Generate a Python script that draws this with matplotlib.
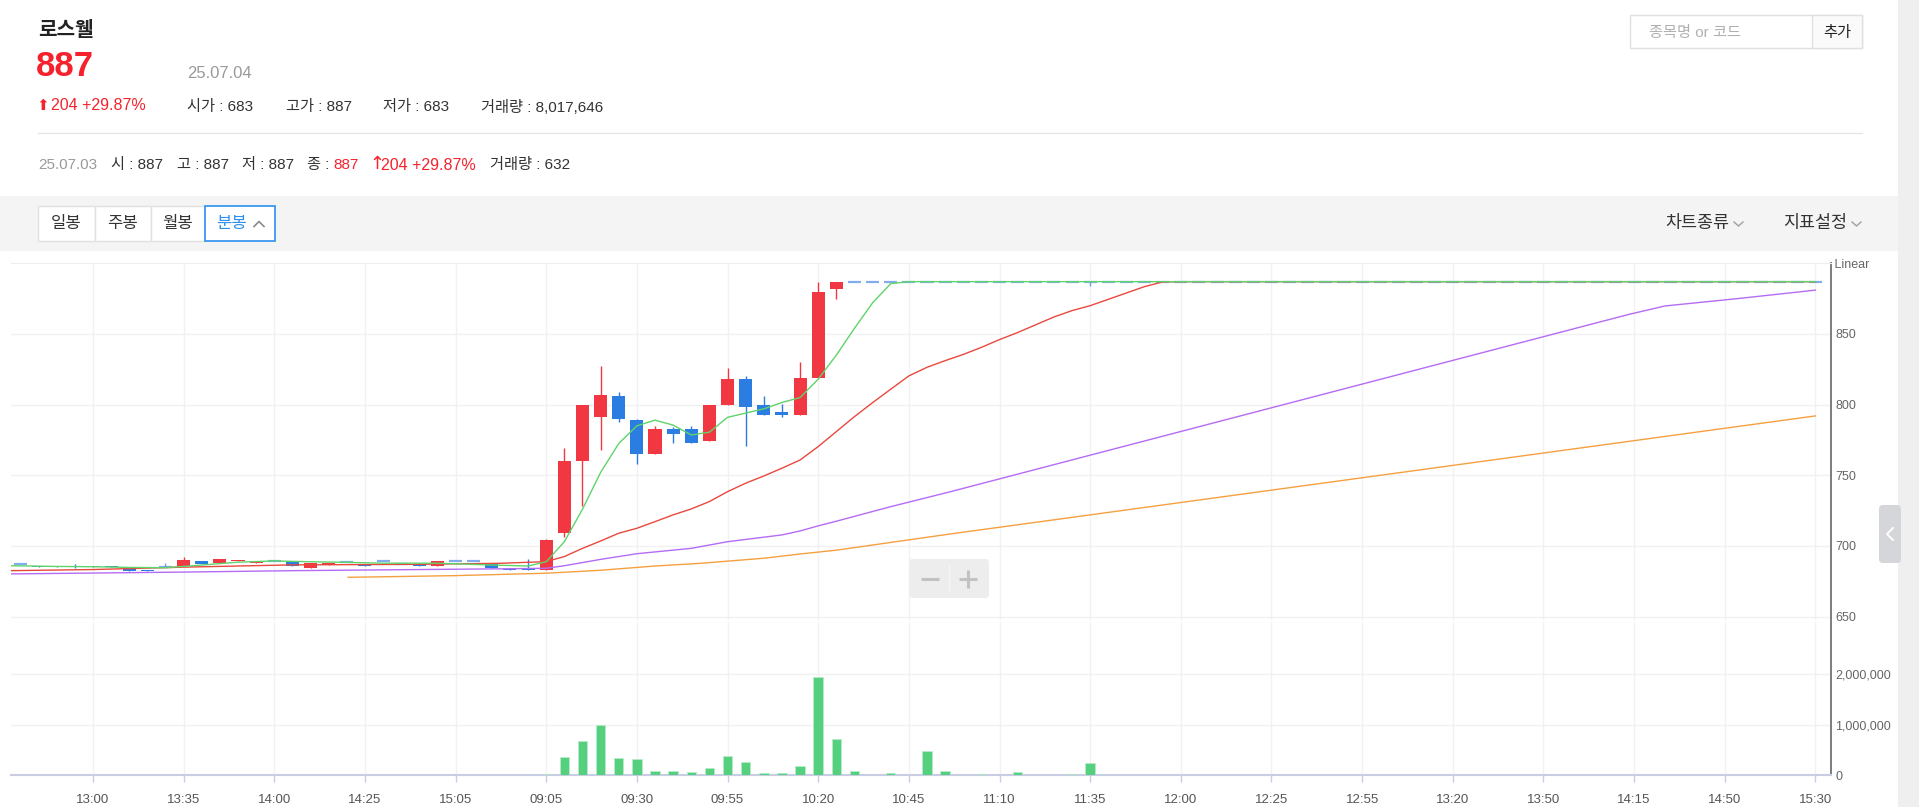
import numpy as np
import matplotlib.pyplot as plt
from matplotlib.patches import Rectangle, FancyBboxPatch
from matplotlib.ticker import FuncFormatter

plt.rcParams['font.family'] = ['Liberation Sans', 'Noto Sans CJK KR', 'DejaVu Sans']
TICKFONT = ['Liberation Sans']

# ---- data (5 minute bars, x = bar index, 13:00 of prev. session = 0)
tick_pos = list(range(0, 100, 5))
tick_labels = ['13:00', '13:35', '14:00', '14:25', '15:05', '09:05', '09:30', '09:55',
               '10:20', '10:45', '11:10', '11:35', '12:00', '12:25', '12:55', '13:20',
               '13:50', '14:15', '14:50', '15:30']

# previous session, bars -4 .. 24
prev_open  = [687, 686, 686, 686, 686, 686, 684, 683, 685, 686, 689, 688, 689, 688, 689,
              689, 684.5, 686.5, 688.5, 687, 689, 687.5, 687, 686, 689, 689, 687, 684, 684]
prev_high  = [687, 686, 686, 687, 686, 686, 684, 683, 688, 692, 689, 691, 690, 689, 689,
              689, 688, 688, 688.5, 687, 689, 687.5, 687, 689, 689, 689, 687, 684, 691]
prev_low   = [687, 685, 685, 684.5, 685, 685, 682, 682, 685, 686, 687, 688, 689, 688, 689,
              686, 684.5, 686.5, 688.5, 686, 689, 687.5, 686, 686, 689, 689, 684.5, 683, 683]
prev_close = [687, 685, 685, 685, 685, 685, 682, 682, 685, 690, 687, 691, 690, 689, 689,
              686, 688, 688, 688.5, 686, 689, 687.5, 686, 689, 689, 689, 684.5, 683, 683]

# 25.07.04 session, bars 25 .. 41
day_open  = [683, 709, 760, 791, 806, 789, 765, 783, 783, 774, 800, 818, 800, 795, 793, 819, 882]
day_high  = [705, 769, 800, 827, 809, 790, 785, 784, 785, 800, 826, 820, 806, 800.5, 830, 887, 887]
day_low   = [683, 706, 728, 768, 788, 758, 765, 773, 773, 774, 800, 771, 793, 791.5, 793, 819, 875]
day_close = [704, 760, 800, 807, 790, 765, 783, 779, 773, 800, 818, 798, 793, 793, 819, 880, 887]

# bars 42 .. 95 : all at the upper limit 887 (one lower wick at 11:35)
limit_price = 887
n_limit_bars = 54
limit_wick = {55: 884}

# volume of the day, bars 25 .. 56 (other bars ~0)
day_volume = [0.01, 0.36, 0.68, 1.00, 0.34, 0.31, 0.08, 0.08, 0.06, 0.14, 0.38, 0.26, 0.04,
              0.04, 0.18, 1.94, 0.71, 0.08, 0.005, 0.035, 0.002, 0.48, 0.08, 0.003, 0.01,
              0.005, 0.05, 0.002, 0.005, 0.01, 0.23, 0.005]

# moving averages (bar index, price)
ma5 = [(-4.6, 686), (-2, 685.5), (0, 685.3), (2, 684.8), (4, 684.6), (6, 686.5), (8, 688.5),
       (10, 689.4), (12, 688.8), (14, 688.4), (16, 687.8), (19, 687.8), (22, 686.5), (24, 685.8),
       (25, 688.8), (26, 703), (27, 726), (28, 752), (29, 772.5), (30, 785), (31, 789),
       (32, 785.5), (33, 778.5), (34, 780.5), (35, 791), (36, 794), (37, 797), (38, 801.5),
       (39, 805), (40, 818), (41, 835), (42, 854), (43, 872), (44, 885.6), (45, 887), (95, 887)]
ma20 = [(-4.6, 682.5), (0, 683.3), (5, 685), (11, 686.6), (18, 687), (22.4, 687.7), (25, 688.9),
        (26, 692.5), (27, 698.3), (28, 703.5), (29, 709), (30, 712.5), (31, 717.2), (32, 722),
        (33, 726.2), (34, 731.4), (35, 738.4), (36, 744.4), (37, 749.5), (38, 755), (39, 760.8),
        (40, 770.3), (41, 780.9), (42, 791.5), (43, 801.4), (44, 810.9), (45, 820.3), (46, 826.4),
        (47, 831.1), (48, 835.5), (49, 840.5), (50, 846), (51, 851), (52, 856.5), (53, 862),
        (54, 866.5), (55, 870), (56, 874.5), (57, 879), (58, 883.5), (59, 886.8), (60, 887), (95, 887)]
ma60 = [(-4.6, 680.2), (5, 681.5), (11, 682.5), (22.4, 683.8), (25, 684.2), (26, 686), (28, 690.5),
        (30, 694.5), (33, 698.3), (35, 703), (38, 707.8), (39, 710.6), (40, 714.2), (41, 717.5),
        (44, 727.8), (47.3, 738.4), (84.7, 863.8), (86.7, 869.8), (90.7, 875), (95, 881)]
ma120 = [(14.07, 677.8), (20, 679), (25, 680.7), (28, 682.8), (31, 685.8), (33.5, 687.7),
         (37, 691.3), (39, 694.3), (41, 697), (47.3, 708.5), (95, 792)]

UP, DOWN, FLAT = '#f03742', '#2b7de1', '#6b9fea'
VOL = '#55d07f'

# ---- assemble bars
idx = np.arange(-4, 96)
opens = prev_open + day_open + [limit_price] * n_limit_bars
highs = prev_high + day_high + [limit_price] * n_limit_bars
lows = prev_low + day_low + [limit_price] * n_limit_bars
closes = prev_close + day_close + [limit_price] * n_limit_bars
for k, v in limit_wick.items():
    lows[k + 4] = v
volume = np.zeros(len(idx))
volume[29:29 + len(day_volume)] = np.array(day_volume) * 1e6

W, H = 1919, 807
fig = plt.figure(figsize=(W / 100, H / 100), dpi=100)


def box(x0, y0, x1, y1):
    return [x0 / W, 1 - y1 / H, (x1 - x0) / W, (y1 - y0) / H]


# ---- page background / header
bg = fig.add_axes([0, 0, 1, 1], zorder=0)
bg.set_xlim(0, W)
bg.set_ylim(H, 0)
bg.axis('off')
bg.add_patch(Rectangle((0, 196), 1898, 55, fc='#f4f4f4', ec='none'))
bg.add_patch(Rectangle((1898, 0), 21, H, fc='#efefef', ec='none'))
bg.plot([38, 1862], [133, 133], color='#e6e6e6', lw=1)

bg.text(38, 30, '로스웰', fontsize=14.5, fontweight='bold', color='#222222', va='center')
bg.text(36, 67, '887', fontsize=25, fontweight='bold', color='#f5222d', va='center')
bg.text(187, 73, '25.07.04', fontsize=12, color='#9a9a9a', va='center')
bg.text(36, 105, '⬆', fontsize=11, color='#f5222d', va='center', family=['DejaVu Sans'])
bg.text(51, 106, '204 +29.87%', fontsize=11.5, color='#f5222d', va='center')
for x, s in [(187, '시가 : 683'), (286, '고가 : 887'), (383, '저가 : 683'), (481, '거래량 : 8,017,646')]:
    bg.text(x, 107, s, fontsize=11, color='#333333', va='center')

bg.text(38, 165, '25.07.03', fontsize=11, color='#9a9a9a', va='center')
for x, s in [(111, '시 : 887'), (177, '고 : 887'), (242, '저 : 887'), (307, '종 : ')]:
    bg.text(x, 165, s, fontsize=11, color='#333333', va='center')
bg.text(333, 165, '887', fontsize=11, color='#f5222d', va='center')
bg.text(369, 164, '↑', fontsize=13, color='#f5222d', va='center', family=['DejaVu Sans'])
bg.text(381, 165, '204 +29.87%', fontsize=11.5, color='#f5222d', va='center')
bg.text(490, 165, '거래량 : 632', fontsize=11, color='#333333', va='center')

# search box
bg.add_patch(Rectangle((1630, 15), 232, 33, fc='white', ec='#e0e0e0', lw=1))
bg.add_patch(Rectangle((1812, 15), 50, 33, fc='#fafafa', ec='#e0e0e0', lw=1))
bg.text(1649, 33, '종목명 or 코드', fontsize=11, color='#b0b0b0', va='center')
bg.text(1837, 33, '추가', fontsize=11, color='#222222', va='center', ha='center')

# period buttons
for (x0, x1, s) in [(38, 95, '일봉'), (95, 151, '주봉'), (151, 205, '월봉')]:
    bg.add_patch(Rectangle((x0, 206), x1 - x0, 34.5, fc='white', ec='#e0e0e0', lw=1))
    bg.text((x0 + x1) / 2, 223.5, s, fontsize=12, color='#333333', va='center', ha='center')
bg.add_patch(Rectangle((205, 206), 70, 34.5, fc='white', ec='#2f8ff0', lw=1.2))
bg.text(216, 223.5, '분봉', fontsize=12, color='#2f8ff0', va='center')
bg.plot([254, 259, 264], [226.5, 221.5, 226.5], color='#8a8a8a', lw=1.2)

bg.text(1665, 223, '차트종류', fontsize=12.5, color='#333333', va='center')
bg.plot([1734, 1738.5, 1743], [222, 226, 222], color='#a0a0a0', lw=1)
bg.text(1783, 223, '지표설정', fontsize=12.5, color='#333333', va='center')
bg.plot([1852, 1856.5, 1861], [222, 226, 222], color='#a0a0a0', lw=1)

XMIN, XMAX = -4.52, 95.86
GRID = '#f1f2f6'

# ---- price pane
ax = fig.add_axes(box(11, 263, 1831, 620), zorder=2)
ax.set_facecolor('none')
ax.set_xlim(XMIN, XMAX)
ax.set_ylim(647.6, 900.2)
for k in tick_pos:
    ax.axvline(k, color=GRID, lw=1, zorder=0)
for p in [650, 700, 750, 800, 850]:
    ax.axhline(p, color='#f1f1f1', lw=1, zorder=0)

for k, o, h, l, c in zip(idx, opens, highs, lows, closes):
    if abs(c - o) < 0.3:
        col = FLAT if k >= 42 or k in (-4, 4, 10, 14, 16, 17, 20, 21) else DOWN
        if h > l:
            ax.vlines(k, l, h, color=col, lw=1.0, zorder=2)
        ax.hlines(o, k - 0.36, k + 0.36, color=col, lw=1.6, alpha=0.85, zorder=2)
        continue
    col = UP if c > o else DOWN
    ax.vlines(k, l, h, color=col, lw=1.0, zorder=2)
    bot, hgt = min(o, c), max(abs(c - o), 0.9)
    ax.bar(k, hgt, bottom=bot, width=0.72, color=col, lw=0, zorder=3)

for pts, col in [(ma120, '#f5a040'), (ma60, '#b56cf4'), (ma20, '#e9483e'), (ma5, '#5ed46a')]:
    xs, ys = zip(*pts)
    ax.plot(xs, ys, color=col, lw=1.0, zorder=4)

ax.yaxis.tick_right()
ax.set_yticks([650, 700, 750, 800, 850])
ax.tick_params(axis='y', length=0, pad=3, labelsize=9, labelcolor='#666666')
for t in ax.get_yticklabels():
    t.set_family(TICKFONT)
ax.set_xticks([])
for s in ['left', 'bottom']:
    ax.spines[s].set_visible(False)
ax.spines['top'].set_color('#eeeeee')
ax.spines['right'].set_color('#7c7c7c')
ax.spines['right'].set_linewidth(1.4)
ax.text(1.0, 0.995, ' Linear', transform=ax.transAxes, fontsize=9, color='#666666',
        va='center', ha='left', family=TICKFONT)

# ---- volume pane
vx = fig.add_axes(box(11, 622, 1831, 775), zorder=2)
vx.set_facecolor('none')
vx.set_xlim(XMIN, XMAX)
vx.set_ylim(0, 3.03e6)
for k in tick_pos:
    vx.axvline(k, color=GRID, lw=1, zorder=0)
for v in [1e6, 2e6]:
    vx.axhline(v, color='#f1f1f1', lw=1, zorder=0)
vx.bar(idx, volume, width=0.52, color=VOL, edgecolor='#b9ecc9', lw=0.5, zorder=3)

vx.yaxis.tick_right()
vx.set_yticks([0, 1e6, 2e6])
vx.yaxis.set_major_formatter(FuncFormatter(lambda v, p: f'{int(v):,}'))
vx.tick_params(axis='y', length=0, pad=3, labelsize=9, labelcolor='#666666')
vx.set_xticks(tick_pos)
vx.set_xticklabels(tick_labels)
vx.tick_params(axis='x', length=5, width=1, color='#c8cde4', pad=9, labelsize=9.5,
               labelcolor='#555555')
for t in vx.get_yticklabels() + vx.get_xticklabels():
    t.set_family(TICKFONT)
for s in ['left', 'top']:
    vx.spines[s].set_visible(False)
vx.spines['bottom'].set_color('#c8cde4')
vx.spines['bottom'].set_linewidth(1.5)
vx.spines['right'].set_color('#7c7c7c')
vx.spines['right'].set_linewidth(1.4)

# ---- overlay widgets
fg = fig.add_axes([0, 0, 1, 1], zorder=5)
fg.set_xlim(0, W)
fg.set_ylim(H, 0)
fg.axis('off')
fg.patch.set_alpha(0)
fg.add_patch(FancyBboxPatch((909, 559), 80, 39, boxstyle='round,pad=0,rounding_size=4',
                            fc='#ededed', ec='none'))
fg.plot([921, 939], [578.5, 578.5], color='#c2c2c2', lw=2.2, solid_capstyle='butt')
fg.plot([959, 977], [578.5, 578.5], color='#c2c2c2', lw=2.2, solid_capstyle='butt')
fg.plot([968, 968], [569.5, 587.5], color='#c2c2c2', lw=2.2, solid_capstyle='butt')
fg.plot([949, 949], [566, 591], color='#f7f7f7', lw=1)
fg.add_patch(FancyBboxPatch((1879, 505), 22, 58, boxstyle='round,pad=0,rounding_size=4',
                            fc='#d4d6da', ec='none'))
fg.plot([1893, 1887, 1893], [528, 534, 540], color='white', lw=1.4)

fig.savefig('out.png', dpi=100)
